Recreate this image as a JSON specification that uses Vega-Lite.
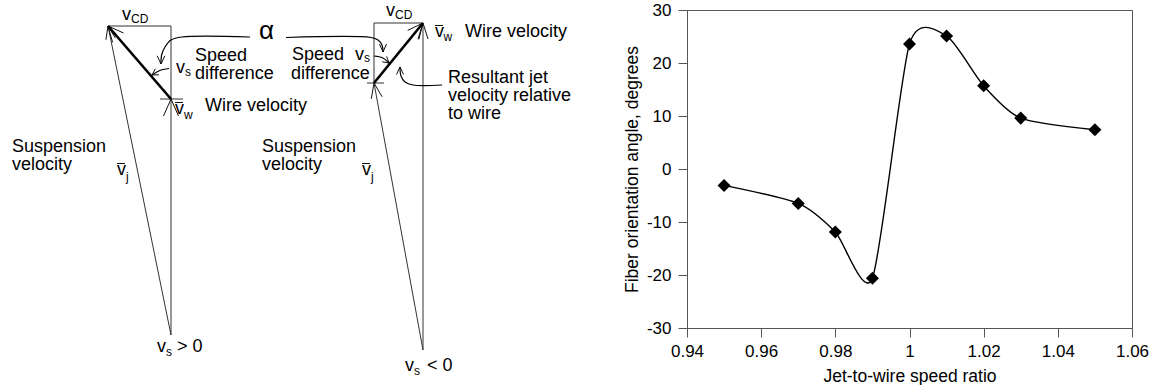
{
  "$schema": "https://vega.github.io/schema/vega-lite/v6.json",
  "padding": 0,
  "spacing": 0,
  "background": "white",
  "config": {
    "font": "Liberation Sans",
    "axis": {
      "grid": false,
      "domainColor": "#555",
      "tickColor": "#555",
      "tickSize": 9,
      "labelFontSize": 17,
      "titleFontSize": 17.5,
      "titleFontWeight": "normal",
      "labelColor": "black",
      "titleColor": "black",
      "labelPadding": 6
    }
  },
  "datasets": {
    "segments": [
      {"kind": "line", "x": 108, "y": 24, "x2": 171, "y2": 24},
      {"kind": "line", "x": 171, "y": 24, "x2": 171, "y2": 333},
      {"kind": "line", "x": 171, "y": 333, "x2": 108, "y2": 24},
      {"kind": "line", "x": 160, "y": 97, "x2": 183, "y2": 97},
      {"kind": "resultant", "x": 171, "y": 97, "x2": 108, "y2": 24},
      {"kind": "head", "x": 108, "y": 24, "x2": 112.6, "y2": 40.4},
      {"kind": "head", "x": 108, "y": 24, "x2": 123.5, "y2": 31},
      {"kind": "head", "x": 108, "y": 24, "x2": 105.9, "y2": 37.8},
      {"kind": "head", "x": 108, "y": 24, "x2": 115.3, "y2": 35.9},
      {"kind": "head", "x": 171, "y": 97, "x2": 163.5, "y2": 114},
      {"kind": "head", "x": 171, "y": 97, "x2": 178.5, "y2": 114},
      {"kind": "head", "x": 161, "y": 62, "x2": 157.2, "y2": 53.8},
      {"kind": "head", "x": 161, "y": 62, "x2": 164.8, "y2": 53.8},
      {"kind": "head", "x": 152, "y": 73, "x2": 159, "y2": 72.8},
      {"kind": "head", "x": 152, "y": 73, "x2": 155.3, "y2": 66.8},
      {"kind": "head", "x": 175, "y": 100.5, "x2": 183, "y2": 100.5},
      {"kind": "head", "x": 117, "y": 161.5, "x2": 125, "y2": 161.5},
      {"kind": "line", "x": 374, "y": 21, "x2": 423, "y2": 21},
      {"kind": "line", "x": 374, "y": 21, "x2": 374, "y2": 81},
      {"kind": "line", "x": 423, "y": 21, "x2": 423, "y2": 348},
      {"kind": "line", "x": 423, "y": 348, "x2": 374, "y2": 81},
      {"kind": "line", "x": 367, "y": 81, "x2": 384, "y2": 81},
      {"kind": "resultant", "x": 374, "y": 81, "x2": 423, "y2": 21},
      {"kind": "head", "x": 423, "y": 21, "x2": 407.7, "y2": 28.4},
      {"kind": "head", "x": 423, "y": 21, "x2": 418.8, "y2": 37.5},
      {"kind": "head", "x": 423, "y": 21, "x2": 418, "y2": 37},
      {"kind": "head", "x": 423, "y": 21, "x2": 428, "y2": 37},
      {"kind": "head", "x": 374, "y": 81, "x2": 371.3, "y2": 96.8},
      {"kind": "head", "x": 374, "y": 81, "x2": 382.1, "y2": 94.8},
      {"kind": "head", "x": 383, "y": 50, "x2": 379.5, "y2": 42},
      {"kind": "head", "x": 383, "y": 50, "x2": 386.5, "y2": 42},
      {"kind": "head", "x": 389, "y": 61, "x2": 386.6, "y2": 54.4},
      {"kind": "head", "x": 389, "y": 61, "x2": 382.1, "y2": 59.8},
      {"kind": "head", "x": 400, "y": 65, "x2": 396.5, "y2": 72.5},
      {"kind": "head", "x": 400, "y": 65, "x2": 403.5, "y2": 72.5},
      {"kind": "head", "x": 435, "y": 23.5, "x2": 443, "y2": 23.5},
      {"kind": "head", "x": 362, "y": 161.5, "x2": 370, "y2": 161.5}
    ],
    "curves": [
      {"path": "alpha-left", "i": 0, "x": 250, "y": 35},
      {"path": "alpha-left", "i": 1, "x": 182, "y": 35},
      {"path": "alpha-left", "i": 2, "x": 171, "y": 38},
      {"path": "alpha-left", "i": 3, "x": 165, "y": 45},
      {"path": "alpha-left", "i": 4, "x": 161.6, "y": 53},
      {"path": "alpha-left", "i": 5, "x": 161, "y": 62},
      {"path": "vs-left", "i": 0, "x": 169, "y": 66.5},
      {"path": "vs-left", "i": 1, "x": 161, "y": 68},
      {"path": "vs-left", "i": 2, "x": 152, "y": 73},
      {"path": "alpha-right", "i": 0, "x": 286, "y": 35.5},
      {"path": "alpha-right", "i": 1, "x": 371, "y": 35.5},
      {"path": "alpha-right", "i": 2, "x": 378, "y": 38},
      {"path": "alpha-right", "i": 3, "x": 382, "y": 43},
      {"path": "alpha-right", "i": 4, "x": 383, "y": 50},
      {"path": "vs-right", "i": 0, "x": 374, "y": 54},
      {"path": "vs-right", "i": 1, "x": 382.5, "y": 55.8},
      {"path": "vs-right", "i": 2, "x": 389, "y": 61},
      {"path": "resultant-note", "i": 0, "x": 442, "y": 83},
      {"path": "resultant-note", "i": 1, "x": 413, "y": 83},
      {"path": "resultant-note", "i": 2, "x": 405, "y": 80},
      {"path": "resultant-note", "i": 3, "x": 401, "y": 74},
      {"path": "resultant-note", "i": 4, "x": 400, "y": 65}
    ],
    "labels": [
      {"role": "label", "text": ["v"], "x": 122, "y": 18},
      {"role": "sub", "text": "CD", "x": 131, "y": 20.5},
      {"role": "label", "text": ["Speed", "difference"], "x": 195, "y": 59},
      {"role": "label", "text": ["v"], "x": 176, "y": 71},
      {"role": "sub", "text": "s", "x": 185, "y": 74},
      {"role": "label", "text": ["v"], "x": 175, "y": 112},
      {"role": "sub", "text": "w", "x": 184, "y": 117},
      {"role": "label", "text": ["Wire velocity"], "x": 205, "y": 109},
      {"role": "label", "text": ["Suspension", "velocity"], "x": 12, "y": 150},
      {"role": "label", "text": ["v"], "x": 117, "y": 173},
      {"role": "sub", "text": "j", "x": 126, "y": 179},
      {"role": "label", "text": ["v"], "x": 157, "y": 350},
      {"role": "sub", "text": "s", "x": 166, "y": 354},
      {"role": "label", "text": ["> 0"], "x": 177, "y": 350},
      {"role": "symbol", "text": "α", "x": 259, "y": 37},
      {"role": "label", "text": ["v"], "x": 386, "y": 14},
      {"role": "sub", "text": "CD", "x": 395, "y": 17},
      {"role": "label", "text": ["v"], "x": 435, "y": 35},
      {"role": "sub", "text": "w", "x": 443.5, "y": 39},
      {"role": "label", "text": ["Wire velocity"], "x": 465, "y": 35},
      {"role": "label", "text": ["Speed"], "x": 292, "y": 58},
      {"role": "label", "text": ["difference"], "x": 291, "y": 77},
      {"role": "label", "text": ["v"], "x": 355, "y": 58},
      {"role": "sub", "text": "s", "x": 364, "y": 60},
      {"role": "label", "text": ["Resultant jet", "velocity relative", "to wire"], "x": 448, "y": 81},
      {"role": "label", "text": ["Suspension", "velocity"], "x": 262, "y": 150},
      {"role": "label", "text": ["v"], "x": 362, "y": 173},
      {"role": "sub", "text": "j", "x": 371, "y": 179},
      {"role": "label", "text": ["v"], "x": 405, "y": 369},
      {"role": "sub", "text": "s", "x": 414, "y": 373},
      {"role": "label", "text": ["< 0"], "x": 427, "y": 369}
    ],
    "fiber": [
      {"ratio": 0.95, "angle": -3.1},
      {"ratio": 0.97, "angle": -6.5},
      {"ratio": 0.98, "angle": -11.9},
      {"ratio": 0.99, "angle": -20.6},
      {"ratio": 1.0, "angle": 23.6},
      {"ratio": 1.01, "angle": 25.1},
      {"ratio": 1.02, "angle": 15.7},
      {"ratio": 1.03, "angle": 9.6},
      {"ratio": 1.05, "angle": 7.4}
    ]
  },
  "hconcat": [
    {
      "width": 622,
      "height": 318,
      "view": {"stroke": null},
      "encoding": {
        "x": {"field": "x", "type": "quantitative", "scale": {"domain": [0, 622], "nice": false, "zero": false}, "axis": null},
        "y": {"field": "y", "type": "quantitative", "scale": {"domain": [8, 326], "reverse": true, "nice": false, "zero": false}, "axis": null}
      },
      "layer": [
        {
          "data": {"name": "segments"},
          "transform": [{"filter": "datum.kind === 'line'"}],
          "mark": {"type": "rule", "color": "#333", "strokeWidth": 1},
          "encoding": {"x2": {"field": "x2"}, "y2": {"field": "y2"}}
        },
        {
          "data": {"name": "segments"},
          "transform": [{"filter": "datum.kind === 'head'"}],
          "mark": {"type": "rule", "color": "#111", "strokeWidth": 1},
          "encoding": {"x2": {"field": "x2"}, "y2": {"field": "y2"}}
        },
        {
          "data": {"name": "segments"},
          "transform": [{"filter": "datum.kind === 'resultant'"}],
          "mark": {"type": "rule", "color": "black", "strokeWidth": 2.6},
          "encoding": {"x2": {"field": "x2"}, "y2": {"field": "y2"}}
        },
        {
          "data": {"name": "curves"},
          "mark": {"type": "line", "color": "black", "strokeWidth": 1.2, "interpolate": "catmull-rom"},
          "encoding": {"detail": {"field": "path"}, "order": {"field": "i"}}
        },
        {
          "data": {"name": "labels"},
          "transform": [{"filter": "datum.role === 'label'"}],
          "mark": {"type": "text", "align": "left", "baseline": "alphabetic", "fontSize": 18, "lineHeight": 18, "color": "black"},
          "encoding": {"text": {"field": "text"}}
        },
        {
          "data": {"name": "labels"},
          "transform": [{"filter": "datum.role === 'sub'"}],
          "mark": {"type": "text", "align": "left", "baseline": "alphabetic", "fontSize": 12, "color": "black"},
          "encoding": {"text": {"field": "text"}}
        },
        {
          "data": {"name": "labels"},
          "transform": [{"filter": "datum.role === 'symbol'"}],
          "mark": {"type": "text", "align": "left", "baseline": "alphabetic", "fontSize": 26, "color": "black"},
          "encoding": {"text": {"field": "text"}}
        }
      ]
    },
    {
      "width": 445,
      "height": 318,
      "view": {"stroke": "#555", "strokeWidth": 1},
      "data": {"name": "fiber"},
      "encoding": {
        "x": {
          "field": "ratio", "type": "quantitative",
          "scale": {"domain": [0.94, 1.06], "nice": false, "zero": false},
          "axis": {"title": "Jet-to-wire speed ratio", "values": [0.94, 0.96, 0.98, 1.0, 1.02, 1.04, 1.06], "format": ".2~f", "labelFlush": false, "labelOverlap": false, "titlePadding": 8}
        },
        "y": {
          "field": "angle", "type": "quantitative",
          "scale": {"domain": [-30, 30], "nice": false, "zero": false},
          "axis": {"title": "Fiber orientation angle, degrees", "values": [-30, -20, -10, 0, 10, 20, 30], "labelExpr": "'' + datum.value", "labelPadding": 7, "titlePadding": 5}
        }
      },
      "layer": [
        {"mark": {"type": "line", "interpolate": "cardinal", "tension": 0.3, "color": "black", "strokeWidth": 1.4}},
        {"mark": {"type": "point", "shape": "diamond", "filled": true, "size": 170, "color": "black", "opacity": 1}}
      ]
    }
  ]
}
